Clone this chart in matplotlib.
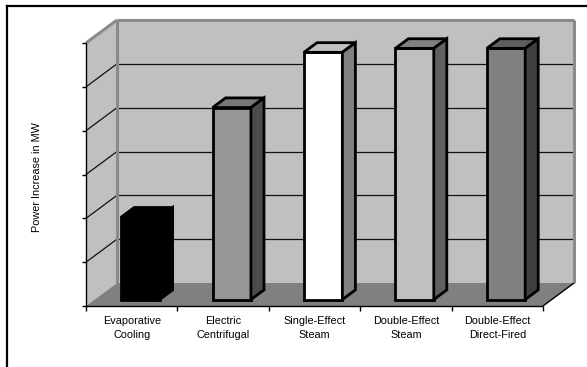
import matplotlib
matplotlib.use('Agg')
import matplotlib.pyplot as plt
from matplotlib.lines import Line2D

plt.rcParams['font.family'] = ['Liberation Sans', 'DejaVu Sans']

# chiller options and the power gain for each (MW, axis runs 0..6)
labels = ['Evaporative\nCooling', 'Electric\nCentrifugal', 'Single-Effect\nSteam',
          'Double-Effect\nSteam', 'Double-Effect\nDirect-Fired']
gain = [1.88, 4.38, 5.64, 5.73, 5.73]
ymax = 6

# front / top / side shade of each bar
front_col = ['#000000', '#969696', '#ffffff', '#c0c0c0', '#808080']
top_col = ['#000000', '#777777', '#c0c0c0', '#808080', '#5f5f5f']
side_col = ['#000000', '#4b4b4b', '#808080', '#606060', '#404040']

n = len(gain)
W, H = 587, 367
fig = plt.figure(figsize=(W / 100, H / 100), dpi=100)
ax = fig.add_axes([0, 0, 1, 1])
ax.axis('off')

# front plane: x 0..n -> px 86..543, y 0..ymax -> px 306..43
sx = (543 - 86) / n
sy = (306 - 43) / ymax
ax.set_xlim(-86 / sx, (W - 86) / sx)
ax.set_ylim((306 - H) / sy, 306 / sy)

# oblique depth offset for the full floor depth
ddx = 31 / sx
ddy = 23 / sy


def P(x, y, f):
    return (x + f * ddx, y + f * ddy)


def poly(pts, fc, ec='none', lw=0, z=1):
    xs, ys = zip(*pts)
    ax.fill(xs, ys, facecolor=fc, edgecolor=ec, linewidth=lw, zorder=z,
            joinstyle='miter')


def seg(a, b, color, lw, z=2):
    ax.plot([a[0], b[0]], [a[1], b[1]], color=color, lw=lw, zorder=z,
            solid_capstyle='butt')


# walls and floor
poly([P(0, 0, 1), P(n, 0, 1), P(n, ymax, 1), P(0, ymax, 1)], '#c0c0c0')
poly([P(0, 0, 0), P(0, 0, 1), P(0, ymax, 1), P(0, ymax, 0)], '#c0c0c0')
poly([P(0, 0, 0), P(n, 0, 0), P(n, 0, 1), P(0, 0, 1)], '#808080')

# gridlines on back and side wall
for v in range(1, ymax):
    seg(P(0, v, 1), P(n, v, 1), '#111111', 0.9)
    seg(P(0, v, 0), P(0, v, 1), '#111111', 0.9)

# wall edges
edge = '#8a8a8a'
seg(P(0, 0, 1), P(0, ymax, 1), edge, 2.2, 3)
seg(P(0, ymax, 1), P(n, ymax, 1), edge, 2.2, 3)
seg(P(n, 0, 1), P(n, ymax, 1), edge, 2.2, 3)
seg(P(0, ymax, 0), P(0, ymax, 1), edge, 2.2, 3)

# front axes with tick marks
seg(P(0, 0, 0), P(0, ymax, 0), 'black', 1.0, 4)
seg(P(0, 0, 0), P(n, 0, 0), 'black', 1.0, 4)
seg(P(n, 0, 0), P(n, 0, 1), 'black', 1.0, 4)
for v in range(ymax + 1):
    seg(P(0, v, 0), P(-4 / sx, v, 0), 'black', 1.0, 4)
for i in range(n + 1):
    seg(P(i, 0, 0), P(i, -5 / sy, 0), 'black', 1.0, 4)

# 3-D bars
off, bw = 0.29, 0.42
fa, fb = 0.28, 0.70
for i, v in enumerate(gain):
    xl, xr = i + off, i + off + bw
    ec = 'black'
    poly([P(xl, 0, fa), P(xr, 0, fa), P(xr, v, fa), P(xl, v, fa)],
         front_col[i], ec, 2.0, 5)
    poly([P(xl, v, fa), P(xr, v, fa), P(xr, v, fb), P(xl, v, fb)],
         top_col[i], ec, 2.0, 5)
    poly([P(xr, 0, fa), P(xr, 0, fb), P(xr, v, fb), P(xr, v, fa)],
         side_col[i], ec, 2.0, 5)

# category labels
for i, lab in enumerate(labels):
    ax.text(i + 0.5, -0.22, lab, ha='center', va='top', fontsize=7.8,
            linespacing=1.55, color='black')

ax.text(-49 / sx, (306 - 177) / sy, 'Power Increase in MW', rotation=90,
        ha='center', va='center', fontsize=7.8, color='black')

# chart frame (left and top edges)
fig.add_artist(Line2D([6.5 / W, 6.5 / W], [0, 1 - 6 / H], color='black',
                      lw=1.6, transform=fig.transFigure))
fig.add_artist(Line2D([6.5 / W, 1], [1 - 6 / H, 1 - 6 / H], color='black',
                      lw=1.6, transform=fig.transFigure))

fig.savefig('out.png', dpi=100, facecolor='white')
